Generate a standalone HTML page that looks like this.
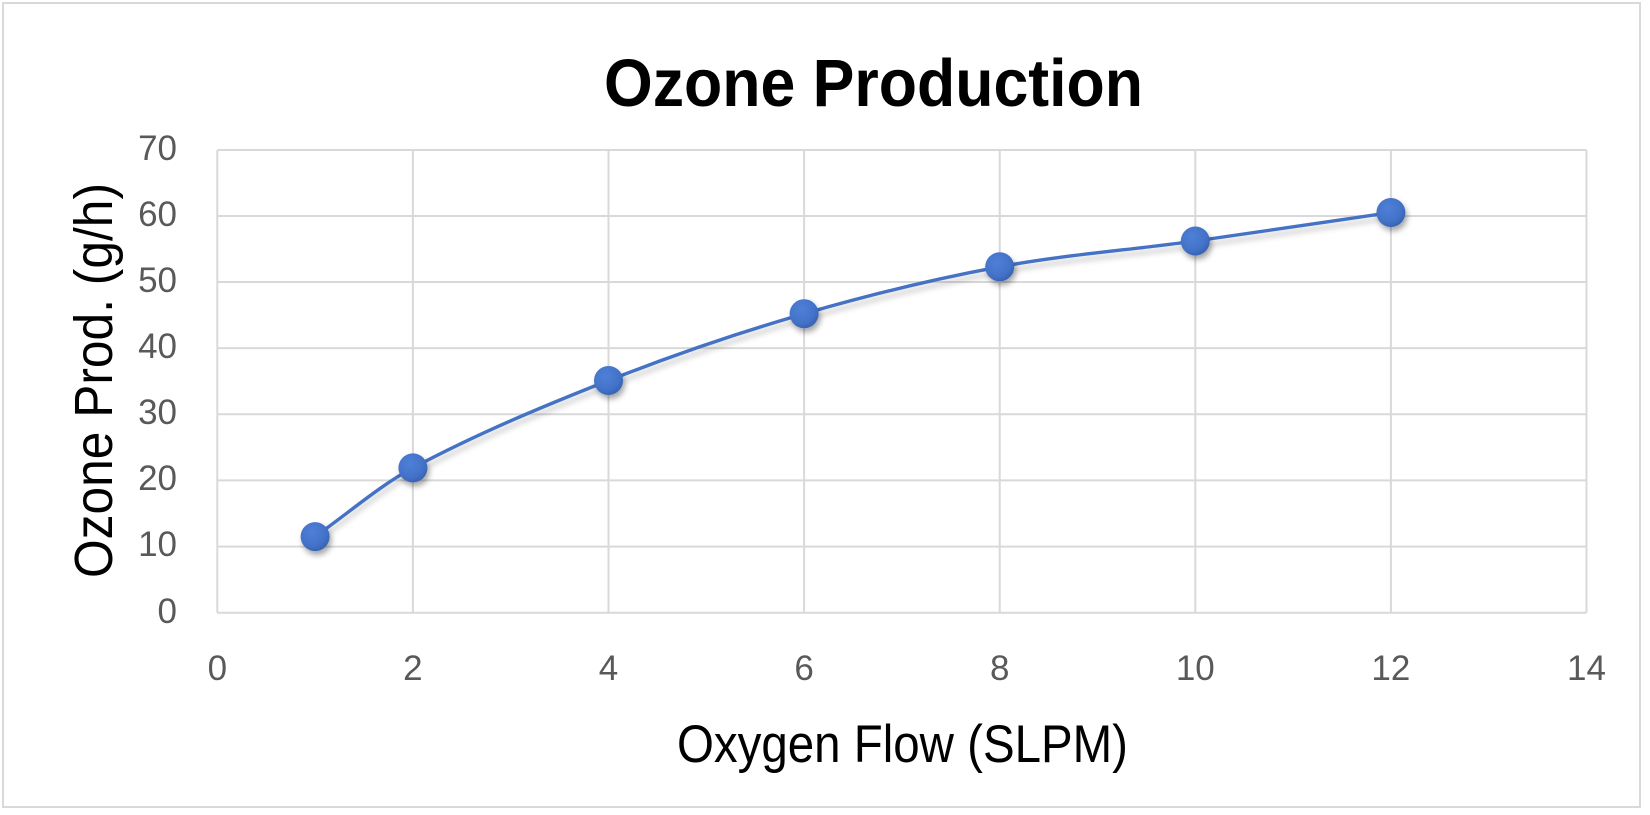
<!DOCTYPE html>
<html>
<head>
<meta charset="utf-8">
<style>
  html, body { margin: 0; padding: 0; background: #ffffff; }
  svg { display: block; }
</style>
</head>
<body>
<svg width="1650" height="815" viewBox="0 0 1650 815" xmlns="http://www.w3.org/2000/svg">
  <defs>
    <radialGradient id="mk" cx="0.4" cy="0.35" r="0.7">
      <stop offset="0" stop-color="#4f80d8"/>
      <stop offset="0.7" stop-color="#4271c7"/>
      <stop offset="1" stop-color="#365fae"/>
    </radialGradient>
    <filter id="sh" x="-20%" y="-50%" width="140%" height="200%">
      <feDropShadow dx="2" dy="4" stdDeviation="3" flood-color="#000" flood-opacity="0.35"/>
    </filter>
    <filter id="lsh" x="-5%" y="-20%" width="110%" height="140%">
      <feDropShadow dx="1" dy="5" stdDeviation="3" flood-color="#000" flood-opacity="0.22"/>
    </filter>
  </defs>

  <rect x="0" y="0" width="1650" height="815" fill="#ffffff"/>
  <rect x="3" y="3" width="1637" height="804" fill="none" stroke="#d9d9d9" stroke-width="2"/>

  <g stroke="#d9d9d9" stroke-width="2" fill="none">
    <line x1="217.3" y1="150" x2="1586.5" y2="150"/>
    <line x1="217.3" y1="216.0" x2="1586.5" y2="216.0"/>
    <line x1="217.3" y1="282.0" x2="1586.5" y2="282.0"/>
    <line x1="217.3" y1="348.1" x2="1586.5" y2="348.1"/>
    <line x1="217.3" y1="414.3" x2="1586.5" y2="414.3"/>
    <line x1="217.3" y1="480.4" x2="1586.5" y2="480.4"/>
    <line x1="217.3" y1="546.6" x2="1586.5" y2="546.6"/>
    <line x1="217.3" y1="612.7" x2="1586.5" y2="612.7"/>

    <line x1="217.3" y1="150" x2="217.3" y2="612.7"/>
    <line x1="412.9" y1="150" x2="412.9" y2="612.7"/>
    <line x1="608.5" y1="150" x2="608.5" y2="612.7"/>
    <line x1="804.1" y1="150" x2="804.1" y2="612.7"/>
    <line x1="999.7" y1="150" x2="999.7" y2="612.7"/>
    <line x1="1195.3" y1="150" x2="1195.3" y2="612.7"/>
    <line x1="1390.9" y1="150" x2="1390.9" y2="612.7"/>
    <line x1="1586.5" y1="150" x2="1586.5" y2="612.7"/>
  </g>

  <text x="604" y="106" font-family="Liberation Sans, Arial, sans-serif" font-weight="bold" font-size="67" fill="#000" textLength="539" lengthAdjust="spacingAndGlyphs">Ozone Production</text>

  <g font-family="Liberation Sans, Arial, sans-serif" font-size="35" fill="#595959" text-anchor="end">
    <text x="177" y="160">70</text>
    <text x="177" y="226">60</text>
    <text x="177" y="292">50</text>
    <text x="177" y="358">40</text>
    <text x="177" y="424">30</text>
    <text x="177" y="490">20</text>
    <text x="177" y="556">10</text>
    <text x="177" y="623">0</text>
  </g>

  <g font-family="Liberation Sans, Arial, sans-serif" font-size="35" fill="#595959" text-anchor="middle">
    <text x="217.3" y="680">0</text>
    <text x="412.9" y="680">2</text>
    <text x="608.5" y="680">4</text>
    <text x="804.1" y="680">6</text>
    <text x="999.7" y="680">8</text>
    <text x="1195.3" y="680">10</text>
    <text x="1390.9" y="680">12</text>
    <text x="1586.5" y="680">14</text>
  </g>

  <text x="677" y="762" font-family="Liberation Sans, Arial, sans-serif" font-size="53" fill="#000" textLength="451" lengthAdjust="spacingAndGlyphs">Oxygen Flow (SLPM)</text>
  <text transform="translate(112,578) rotate(-90)" x="0" y="0" font-family="Liberation Sans, Arial, sans-serif" font-size="54" fill="#000" textLength="395" lengthAdjust="spacingAndGlyphs">Ozone Prod. (g/h)</text>

  <path filter="url(#lsh)" fill="none" stroke="#4472C4" stroke-width="3.4" stroke-linecap="round"
        d="M315.1,536.6 C347.7,513.7 380.3,485.2 412.9,467.9
           C478.1,433.2 543.3,406.2 608.5,380.5
           C673.7,354.8 738.9,332.65 804.1,313.7
           C869.3,294.75 934.5,278.9 999.7,266.8
           C1064.9,254.7 1130.1,250.05 1195.3,241.0
           C1260.5,231.95 1325.7,222.0 1390.9,212.5"/>

  <g fill="url(#mk)" filter="url(#sh)">
    <circle cx="315.1" cy="536.6" r="14.5"/>
    <circle cx="412.9" cy="467.9" r="14.5"/>
    <circle cx="608.5" cy="380.5" r="14.5"/>
    <circle cx="804.1" cy="313.7" r="14.5"/>
    <circle cx="999.7" cy="266.8" r="14.5"/>
    <circle cx="1195.3" cy="241.0" r="14.5"/>
    <circle cx="1390.9" cy="212.5" r="14.5"/>
  </g>
</svg>
</body>
</html>
